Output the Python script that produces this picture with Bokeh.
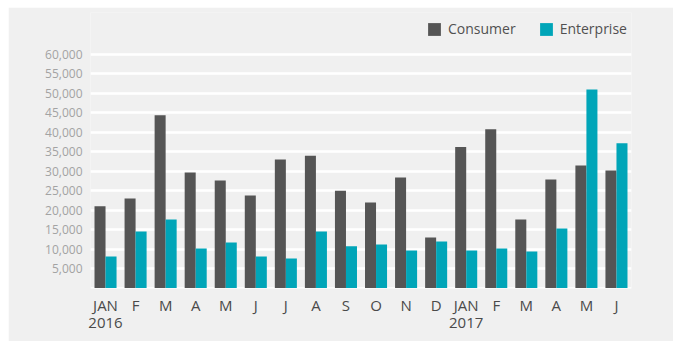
from bokeh.plotting import figure
from bokeh.models import ColumnDataSource, FixedTicker, Legend, LegendItem, NumeralTickFormatter
from bokeh.transform import dodge
from bokeh.embed import file_html
from bokeh.resources import INLINE

months = ["JAN\n2016", "F", "M", "A", "M", "J", "J", "A", "S", "O", "N", "D",
          "JAN\n2017", "F", "M", "A", "M", "J"]
consumer = [21000, 23000, 44400, 29700, 27600, 23800, 33000, 34000, 25000, 22000,
            28400, 13000, 36200, 40800, 17600, 27900, 31500, 30200]
enterprise = [8100, 14500, 17600, 10150, 11700, 8100, 7600, 14500, 10700, 11200,
              9650, 11950, 9650, 10150, 9400, 15300, 51000, 37200]
y_ticks = [5000, 10000, 15000, 20000, 25000, 30000, 35000, 40000, 45000, 50000, 55000, 60000]
grid_ticks = [0] + y_ticks

FONT = "Open Sans"
BG = "#f0f0f0"
C_CONS = "#555555"
C_ENT = "#00a5b8"

idx = list(range(len(months)))
src = ColumnDataSource(dict(x=idx, consumer=consumer, enterprise=enterprise))

p = figure(width=665, height=334, x_range=(-0.5, len(months) - 0.5), y_range=(-128, 70792),
           output_backend="svg", toolbar_location=None, tools="")
p.margin = (7, 0, 0, 8)
p.min_border_left = 82
p.min_border_right = 42
p.min_border_top = 5
p.min_border_bottom = 53
p.background_fill_color = BG
p.border_fill_color = BG
p.outline_line_color = None

r1 = p.vbar(x=dodge("x", -0.1833), top="consumer", width=0.3667, source=src,
            fill_color=C_CONS, line_color=None)
r2 = p.vbar(x=dodge("x", 0.1833), top="enterprise", width=0.3667, source=src,
            fill_color=C_ENT, line_color=None)

p.xgrid.grid_line_color = None
p.ygrid.ticker = FixedTicker(ticks=grid_ticks)
p.ygrid.grid_line_color = "white"
p.ygrid.grid_line_width = 2.5
p.ygrid.level = "underlay"

ya = p.yaxis[0]
ya.ticker = FixedTicker(ticks=y_ticks)
ya.formatter = NumeralTickFormatter(format="0,0")
ya.axis_line_color = None
ya.major_tick_line_color = None
ya.minor_tick_line_color = None
ya.major_tick_out = 0
ya.major_tick_in = 0
ya.major_label_standoff = 8
ya.major_label_text_font = FONT
ya.major_label_text_font_size = "12px"
ya.major_label_text_color = "#a3a3a3"

xa = p.xaxis[0]
xa.ticker = FixedTicker(ticks=idx)
xa.major_label_overrides = {i: m for i, m in enumerate(months)}
xa.axis_line_color = None
xa.major_tick_line_color = None
xa.minor_tick_line_color = None
xa.major_tick_out = 0
xa.major_tick_in = 0
xa.major_label_standoff = 6
xa.major_label_text_font = FONT
xa.major_label_text_font_size = "15px"
xa.major_label_text_line_height = 0.85
xa.major_label_text_color = "#4a4a4a"

legend = Legend(items=[LegendItem(label="Consumer", renderers=[r1]),
                       LegendItem(label="Enterprise", renderers=[r2])],
                orientation="horizontal", location=(336, 250))
legend.glyph_width = 16
legend.glyph_height = 16
legend.label_standoff = 6
legend.spacing = 22
legend.padding = 0
legend.margin = 0
legend.background_fill_alpha = 0
legend.border_line_color = None
legend.label_text_font = FONT
legend.label_text_font_size = "14px"
legend.label_text_color = "#505050"
p.add_layout(legend)

open("out.html", "w").write(file_html(p, INLINE))
